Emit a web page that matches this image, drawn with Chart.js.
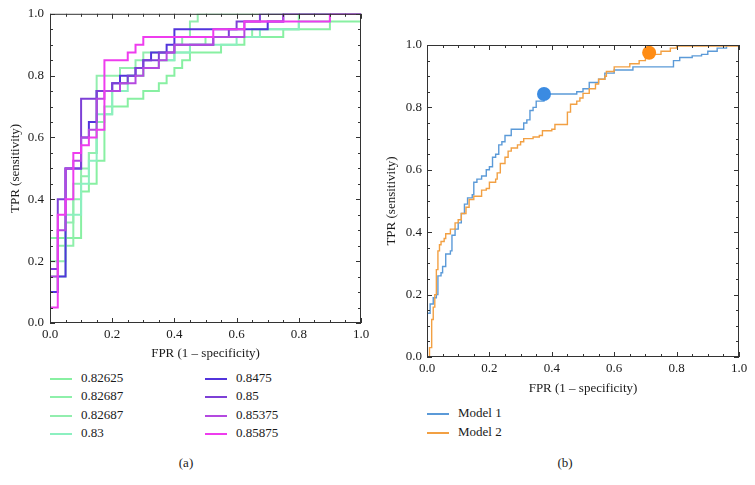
<!DOCTYPE html>
<html>
<head>
<meta charset="utf-8">
<script src="https://cdn.jsdelivr.net/npm/chart.js@4.4.0/dist/chart.umd.min.js"></script>
<style>
    body { margin: 0; background: #fff; width: 755px; height: 485px; overflow: hidden; position: relative;
           font-family: "Liberation Serif", "Times New Roman", serif; color: #1a1a1a; }
    .box { position: absolute; }
    .item { position: absolute; font-size: 13px; height: 18px; line-height: 18px; white-space: nowrap; }
    .item span { position: absolute; left: 0; top: 9px; width: 22px; height: 2px; }
    .item b { font-weight: normal; margin-left: 31px; }
    .cap { position: absolute; font-size: 13px; transform: translateX(-50%); }
</style>
</head>
<body>
<div class="box" style="left:0;top:0;width:375px;height:365px"><canvas id="rocA"></canvas></div>
<div class="box" style="left:380px;top:0;width:375px;height:400px"><canvas id="rocB"></canvas></div>
<div id="legA"></div>
<div id="legB"></div>
<div class="cap" style="left:186px;top:455px">(a)</div>
<div class="cap" style="left:565px;top:455px">(b)</div>
<script>
// panel (a): ROC step curves, FPR / TPR corner points
const fpr82625 = [0, 0, 0.1, 0.125, 0.15, 0.175, 0.2, 0.25, 0.3, 0.35, 0.375, 0.4, 0.425, 0.45, 0.55, 0.625, 0.75, 0.9, 1, 1];
const tpr82625 = [0, 0.275, 0.425, 0.45, 0.525, 0.675, 0.7, 0.725, 0.75, 0.775, 0.8, 0.825, 0.85, 0.875, 0.9, 0.925, 0.95, 0.975, 0.975, 1];
const fpr82687a = [0, 0, 0.025, 0.075, 0.1, 0.125, 0.15, 0.175, 0.2, 0.225, 0.25, 0.3, 0.35, 0.4, 0.45, 0.5, 0.65, 0.8, 1];
const tpr82687a = [0, 0.1, 0.25, 0.4, 0.475, 0.55, 0.65, 0.7, 0.75, 0.775, 0.8, 0.825, 0.85, 0.875, 0.9, 0.925, 0.95, 1, 1];
const fpr82687b = [0, 0, 0.05, 0.075, 0.1, 0.125, 0.15, 0.225, 0.275, 0.3, 0.4, 0.425, 0.45, 0.475, 1];
const tpr82687b = [0, 0.2, 0.325, 0.45, 0.5, 0.55, 0.8, 0.825, 0.85, 0.875, 0.9, 0.925, 0.975, 1, 1];
const fpr83 = [0, 0, 0.05, 0.1, 0.125, 0.15, 0.2, 0.25, 0.3, 0.35, 0.4, 0.45, 0.6, 0.675, 0.8, 0.9, 1];
const tpr83 = [0, 0.15, 0.35, 0.45, 0.525, 0.675, 0.75, 0.8, 0.825, 0.85, 0.875, 0.9, 0.925, 0.95, 0.975, 1, 1];
const fpr8475 = [0, 0, 0.025, 0.05, 0.1, 0.125, 0.15, 0.2, 0.225, 0.275, 0.3, 0.325, 0.375, 0.4, 0.7, 0.75, 1];
const tpr8475 = [0, 0.1, 0.15, 0.5, 0.6, 0.65, 0.75, 0.775, 0.8, 0.825, 0.85, 0.875, 0.9, 0.95, 0.975, 1, 1];
const fpr85 = [0, 0, 0.025, 0.05, 0.1, 0.15, 0.2, 0.25, 0.275, 0.3, 0.35, 0.4, 0.525, 0.575, 0.6, 0.675, 1];
const tpr85 = [0, 0.175, 0.4, 0.5, 0.725, 0.75, 0.775, 0.8, 0.825, 0.85, 0.875, 0.9, 0.925, 0.95, 0.975, 1, 1];
const fpr85375 = [0, 0, 0.025, 0.05, 0.075, 0.1, 0.125, 0.15, 0.175, 0.225, 0.275, 0.3, 0.35, 0.375, 0.4, 0.525, 0.625, 0.75, 1];
const tpr85375 = [0, 0.15, 0.3, 0.5, 0.525, 0.6, 0.625, 0.725, 0.75, 0.775, 0.8, 0.825, 0.85, 0.875, 0.9, 0.925, 0.975, 1, 1];
const fpr85875 = [0, 0, 0.025, 0.05, 0.075, 0.1, 0.125, 0.15, 0.175, 0.25, 0.275, 0.3, 0.525, 0.625, 0.9, 1];
const tpr85875 = [0, 0.05, 0.35, 0.4, 0.55, 0.575, 0.6, 0.625, 0.85, 0.875, 0.9, 0.925, 0.95, 0.975, 1, 1];

const labelsA = ['0.82625', '0.82687', '0.82687', '0.83', '0.8475', '0.85', '0.85375', '0.85875'];
const colorsA = ['#88f0a2', '#8ef0aa', '#92eeae', '#8cf0c0', '#5234dc', '#7d40d6', '#b449e0', '#ee3cee'];
const fprA = [fpr82625, fpr82687a, fpr82687b, fpr83, fpr8475, fpr85, fpr85375, fpr85875];
const tprA = [tpr82625, tpr82687a, tpr82687b, tpr83, tpr8475, tpr85, tpr85375, tpr85875];

// panel (b)
const fprM1 = [0, 0, 0.01, 0.02, 0.03, 0.035, 0.045, 0.05, 0.06, 0.075, 0.08, 0.09, 0.1, 0.11, 0.12, 0.13, 0.145, 0.15, 0.16, 0.175,
    0.19, 0.2, 0.21, 0.22, 0.23, 0.24, 0.25, 0.27, 0.31, 0.32, 0.33, 0.34, 0.35, 0.375, 0.48, 0.5, 0.52, 0.55, 0.57, 0.6,
    0.66, 0.79, 0.81, 0.85, 0.88, 0.9, 0.93, 0.96, 1];
const tprM1 = [0, 0.14, 0.17, 0.19, 0.2, 0.26, 0.27, 0.29, 0.33, 0.34, 0.39, 0.41, 0.43, 0.46, 0.49, 0.51, 0.52, 0.56, 0.57, 0.58,
    0.6, 0.61, 0.64, 0.65, 0.68, 0.69, 0.71, 0.73, 0.75, 0.76, 0.79, 0.8, 0.82, 0.843, 0.85, 0.86, 0.88, 0.89, 0.91, 0.92,
    0.93, 0.95, 0.96, 0.965, 0.97, 0.98, 0.99, 1, 1];
const fprM2 = [0, 0, 0.008, 0.015, 0.02, 0.025, 0.03, 0.035, 0.04, 0.045, 0.055, 0.06, 0.075, 0.09, 0.1, 0.11, 0.125, 0.135, 0.15, 0.175,
    0.19, 0.2, 0.22, 0.225, 0.235, 0.25, 0.26, 0.27, 0.29, 0.3, 0.31, 0.34, 0.36, 0.37, 0.4, 0.41, 0.45, 0.46, 0.48, 0.49,
    0.5, 0.52, 0.54, 0.55, 0.57, 0.575, 0.6, 0.65, 0.68, 0.7, 0.72, 0.75, 0.78, 0.8, 1];
const tprM2 = [0, 0, 0.03, 0.12, 0.16, 0.2, 0.28, 0.34, 0.36, 0.37, 0.38, 0.395, 0.41, 0.43, 0.44, 0.46, 0.48, 0.505, 0.515, 0.535,
    0.54, 0.56, 0.57, 0.59, 0.62, 0.64, 0.66, 0.67, 0.68, 0.69, 0.7, 0.705, 0.71, 0.725, 0.73, 0.745, 0.785, 0.81, 0.82, 0.83,
    0.845, 0.86, 0.875, 0.89, 0.9, 0.915, 0.93, 0.94, 0.95, 0.96, 0.97, 0.98, 0.99, 0.997, 0.997];
const cutM1 = [0.375, 0.843];
const cutM2 = [0.712, 0.975];
const labelsB = ['Model 1', 'Model 2'];
const colorsB = ['#5b9ad8', '#f2a043'];
const dotColorsB = ['#3b8be2', '#ff8c14'];

const tickValues = [0, 0.2, 0.4, 0.6, 0.8, 1];
const serif = '"Liberation Serif", "Times New Roman", serif';

const toPoints = (xs, ys) => xs.map((x, i) => ({ x, y: ys[i] }));

// inward ticks on all four sides + frame
const frameTicks = {
    id: 'frameTicks',
    afterDraw(chart) {
        const { ctx, chartArea: a, scales: { x, y } } = chart;
        ctx.save();
        ctx.strokeStyle = '#333';
        ctx.lineWidth = 1;
        ctx.beginPath();
        for (let i = 0; i <= 20; i++) {
            const v = i / 20;
            const len = i % 4 === 0 ? 5 : 3;
            const px = Math.round(x.getPixelForValue(v)) + 0.5;
            const py = Math.round(y.getPixelForValue(v)) + 0.5;
            ctx.moveTo(px, a.bottom); ctx.lineTo(px, a.bottom - len);
            ctx.moveTo(px, a.top); ctx.lineTo(px, a.top + len);
            ctx.moveTo(a.left, py); ctx.lineTo(a.left + len, py);
            ctx.moveTo(a.right, py); ctx.lineTo(a.right - len, py);
        }
        ctx.stroke();
        ctx.strokeRect(a.left + 0.5, a.top + 0.5, a.right - a.left - 1, a.bottom - a.top - 1);
        ctx.restore();
    }
};

const axes = (yWidth, xHeight, yTitlePad, yTickPad) => ({
    x: {
        type: 'linear', min: 0, max: 1,
        afterBuildTicks: s => { s.ticks = tickValues.map(value => ({ value })); },
        afterFit: s => { s.height = xHeight; },
        grid: { display: false, drawTicks: false },
        border: { display: false },
        ticks: { padding: 4, color: '#1a1a1a', font: { family: serif, size: 13 }, callback: v => v.toFixed(1), maxRotation: 0 },
        title: { display: true, text: 'FPR (1 \u2013 specificity)', color: '#1a1a1a', font: { family: serif, size: 13 }, padding: { top: 0, bottom: 4 } }
    },
    y: {
        type: 'linear', min: 0, max: 1,
        afterBuildTicks: s => { s.ticks = tickValues.map(value => ({ value })); },
        afterFit: s => { s.width = yWidth; },
        grid: { display: false, drawTicks: false },
        border: { display: false },
        ticks: { padding: yTickPad, color: '#1a1a1a', font: { family: serif, size: 13 }, callback: v => v.toFixed(1) },
        title: { display: true, text: 'TPR (sensitivity)', color: '#1a1a1a', font: { family: serif, size: 13 }, padding: { top: yTitlePad, bottom: 0 } }
    }
});

const baseOptions = (padding, scales) => ({
    responsive: true,
    maintainAspectRatio: false,
    animation: false,
    layout: { padding },
    plugins: { legend: { display: false }, tooltip: { enabled: false } },
    scales
});

new Chart(document.getElementById('rocA'), {
    type: 'line',
    data: {
        datasets: labelsA.map((label, i) => ({
            label,
            data: toPoints(fprA[i], tprA[i]),
            borderColor: colorsA[i],
            borderWidth: 2,
            stepped: 'before',
            pointRadius: 0,
            fill: false,
            order: labelsA.length - i
        }))
    },
    options: baseOptions({ top: 13, right: 14, left: 0, bottom: 0 }, axes(50, 42, 8, 6)),
    plugins: [frameTicks]
});

new Chart(document.getElementById('rocB'), {
    type: 'line',
    data: {
        datasets: [
            { label: labelsB[0], data: toPoints(fprM1, tprM1), borderColor: colorsB[0], borderWidth: 1.4, stepped: 'before', pointRadius: 0, order: 3 },
            { label: labelsB[1], data: toPoints(fprM2, tprM2), borderColor: colorsB[1], borderWidth: 1.4, stepped: 'before', pointRadius: 0, order: 2 },
            { label: 'cut1', data: [{ x: cutM1[0], y: cutM1[1] }], showLine: false, pointRadius: 7, pointBorderWidth: 0, pointBackgroundColor: dotColorsB[0], order: 1 },
            { label: 'cut2', data: [{ x: cutM2[0], y: cutM2[1] }], showLine: false, pointRadius: 7, pointBorderWidth: 0, pointBackgroundColor: dotColorsB[1], order: 0 }
        ]
    },
    options: baseOptions({ top: 45, right: 16, left: 0, bottom: 0 }, axes(47, 43, 4, 5)),
    plugins: [frameTicks]
});

// html legends
const addItem = (parent, left, top, color, label) => {
    const el = document.createElement('div');
    el.className = 'item';
    el.style.left = left + 'px';
    el.style.top = Math.round(top) + 'px';
    el.innerHTML = `<span style="background:${color}"></span><b>${label}</b>`;
    parent.appendChild(el);
};
const legA = document.getElementById('legA');
labelsA.forEach((label, i) => addItem(legA, i < 4 ? 50 : 205, 369 + (i % 4) * 18.3, colorsA[i], label));
const legB = document.getElementById('legB');
labelsB.forEach((label, i) => addItem(legB, 427, 404 + i * 18.5, colorsB[i], label));
</script>
</body>
</html>
